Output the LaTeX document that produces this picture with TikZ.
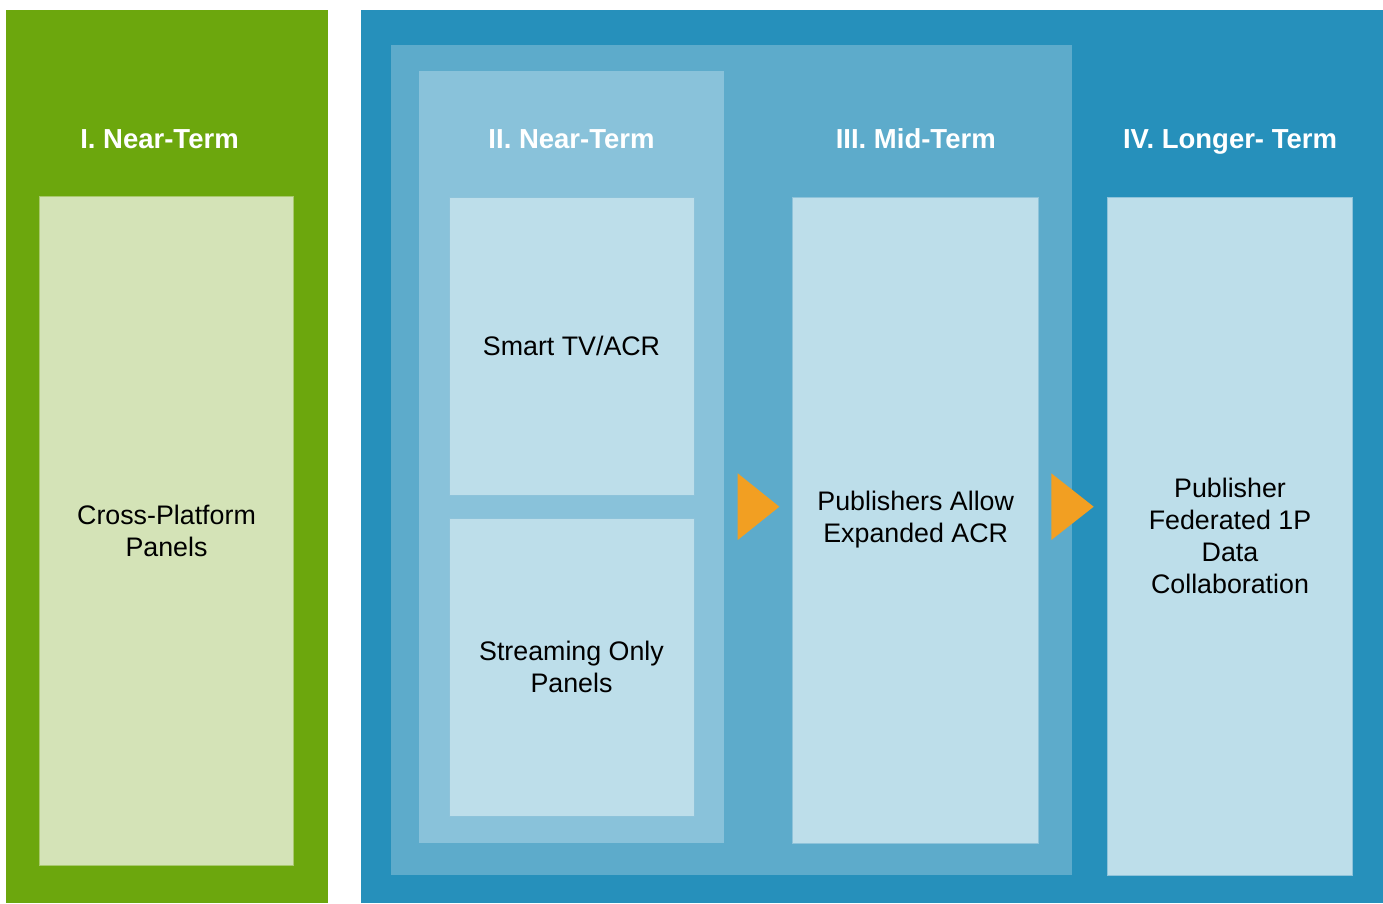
\documentclass[tikz,border=0pt]{standalone}
\usepackage{fontspec}
\setmainfont{Liberation Sans}
\definecolor{grnDark}{HTML}{6CA70D}
\definecolor{grnLight}{HTML}{D4E3B7}
\definecolor{grnEdge}{HTML}{A9C96E}
\definecolor{blueDark}{HTML}{2690BB}
\definecolor{blueMid}{HTML}{5DABCB}
\definecolor{blueSoft}{HTML}{89C2DA}
\definecolor{bluePale}{HTML}{BDDEEA}
\definecolor{paleEdge}{HTML}{8EC3DA}
\definecolor{arrowOrange}{HTML}{F29F22}
\begin{document}
\begin{tikzpicture}[x=1pt,y=-1pt,
  panel/.style={rectangle, inner sep=0pt, outer sep=0pt, anchor=center},
  cardbox/.style={panel, fill=bluePale, draw=paleEdge, line width=0.6pt,
    align=center, text=black, font=\fontsize{26.8}{32}\selectfont},
  title/.style={inner sep=0pt, anchor=base, text=white, font=\fontsize{27.5}{32}\selectfont\bfseries},
  marker/.style={fill=arrowOrange, draw=none}]
\useasboundingbox (0,0) rectangle (1383,903);
\fill[white] (0,0) rectangle (1383,903);

% background panels
\node[panel, fill=grnDark, minimum width=321.5pt, minimum height=893pt] (near1) at (166.75,456.5) {};
\node[panel, fill=blueDark, minimum width=1022pt, minimum height=893pt] (later) at (872,456.5) {};
\node[panel, fill=blueMid, minimum width=680.7pt, minimum height=830.6pt] (middle) at (731.35,460) {};
\node[panel, fill=blueSoft, minimum width=305pt, minimum height=771.7pt] (near2) at (571.5,456.85) {};

% column titles
\node[title] (t1) at (159.5,148) {I. Near-Term};
\node[title] (t2) at (571.5,148) {II. Near-Term};
\node[title] (t3) at (915.7,148) {III. Mid-Term};
\node[title] (t4) at (1230,148) {IV. Longer- Term};

% content cards
\node[cardbox, fill=grnLight, draw=grnEdge, minimum width=254.4pt, minimum height=669pt] (cross) at (166.5,530.8) {Cross-Platform\\Panels};
\node[cardbox, minimum width=245pt, minimum height=298pt] (smart) at (571.5,346) {Smart TV/ACR};
\node[cardbox, minimum width=245pt, minimum height=298.3pt] (stream) at (571.5,667.15) {Streaming Only\\Panels};
\node[cardbox, minimum width=246pt, minimum height=646pt] (mid) at (915.7,520) {Publishers Allow\\Expanded ACR};
\node[cardbox, minimum width=245.4pt, minimum height=678.3pt] (long) at (1230,536.15) {Publisher\\Federated 1P\\Data\\Collaboration};

% progression markers
\fill[marker] (737.7,473.3) -- (737.7,540) -- (779.3,506.7) -- cycle;
\fill[marker] (1051.3,473.3) -- (1051.3,540) -- (1093.7,506.7) -- cycle;
\end{tikzpicture}
\end{document}
